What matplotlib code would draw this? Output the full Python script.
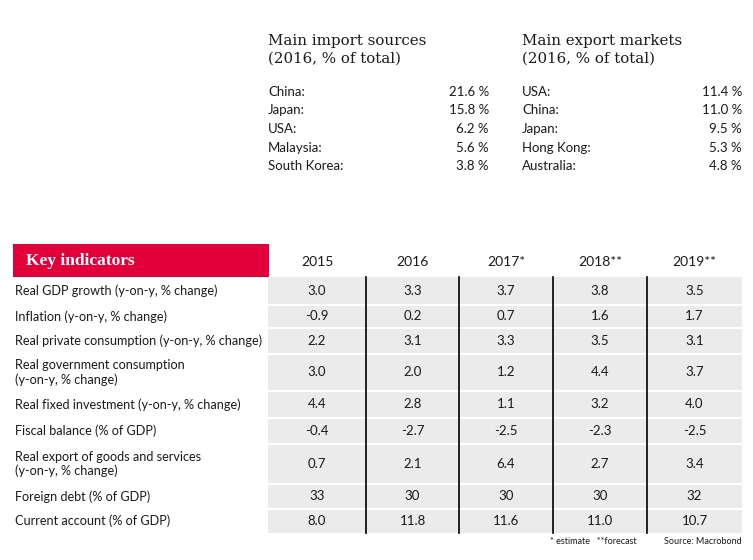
import matplotlib
matplotlib.use("Agg")
from matplotlib import pyplot as plt
from matplotlib.patches import Rectangle

# data
import_countries = ["China:", "Japan:", "USA:", "Malaysia:", "South Korea:"]
import_shares = [21.6, 15.8, 6.2, 5.6, 3.8]
export_countries = ["USA:", "China:", "Japan:", "Hong Kong:", "Australia:"]
export_shares = [11.4, 11.0, 9.5, 5.3, 4.8]

years = ["2015", "2016", "2017*", "2018**", "2019**"]
indicators = [
    "Real GDP growth (y-on-y, % change)",
    "Inflation (y-on-y, % change)",
    "Real private consumption (y-on-y, % change)",
    "Real government consumption\n(y-on-y, % change)",
    "Real fixed investment (y-on-y, % change)",
    "Fiscal balance (% of GDP)",
    "Real export of goods and services\n(y-on-y, % change)",
    "Foreign debt (% of GDP)",
    "Current account (% of GDP)",
]
values = [
    ["3.0", "3.3", "3.7", "3.8", "3.5"],
    ["-0.9", "0.2", "0.7", "1.6", "1.7"],
    ["2.2", "3.1", "3.3", "3.5", "3.1"],
    ["3.0", "2.0", "1.2", "4.4", "3.7"],
    ["4.4", "2.8", "1.1", "3.2", "4.0"],
    ["-0.4", "-2.7", "-2.5", "-2.3", "-2.5"],
    ["0.7", "2.1", "6.4", "2.7", "3.4"],
    ["33", "30", "30", "30", "32"],
    ["8.0", "11.8", "11.6", "11.0", "10.7"],
]

RED = "#e3003a"
GREY = "#ebebeb"
INK = "#1a1a1a"
SANS = "Lato"
SERIF = "DejaVu Serif"

fig = plt.figure(figsize=(7.53, 5.60), dpi=100)
ax = fig.add_axes([0, 0, 1, 1])
ax.set_xlim(0, 753)
ax.set_ylim(560, 0)
ax.axis("off")

# top lists
def trade_block(x0, x1, title, names, shares):
    ax.text(x0, 45, title, family=SERIF, fontsize=10.8, va="baseline", color=INK)
    ax.text(x0, 63, "(2016, % of total)", family=SERIF, fontsize=10.8, va="baseline", color=INK)
    for i, (n, s) in enumerate(zip(names, shares)):
        y = 92 + i * 18.5
        ax.text(x0, y, n, family=SANS, fontsize=9.5, va="center", color=INK)
        ax.text(x1, y, f"{s:.1f} %", family=SANS, fontsize=9.5, va="center", ha="right", color=INK)

trade_block(268, 489, "Main import sources", import_countries, import_shares)
trade_block(522, 742, "Main export markets", export_countries, export_shares)

# table
row_edges = [277, 305, 328, 354, 391, 418, 444, 484, 509, 533]
col_edges = [268, 366, 459, 553, 647, 742]

ax.add_patch(Rectangle((13, 244), 256, 33, color=RED, lw=0))
ax.text(26, 261, "Key indicators", family="Liberation Serif", fontsize=12.5, fontweight="bold",
        color="white", va="center")

for j, yr in enumerate(years):
    xc = (col_edges[j] + col_edges[j + 1]) / 2
    ax.text(xc, 262, yr, family=SANS, fontsize=10, ha="center", va="center", color=INK)

ax.add_patch(Rectangle((col_edges[0], row_edges[0]), col_edges[-1] - col_edges[0],
                       row_edges[-1] - row_edges[0], color=GREY, lw=0))
for y in row_edges[1:-1]:
    ax.plot([col_edges[0], col_edges[-1]], [y, y], color="white", lw=1.5)
for x in col_edges[1:-1]:
    ax.plot([x, x], [row_edges[0], row_edges[-1]], color="black", lw=1.2)

for i, label in enumerate(indicators):
    yc = (row_edges[i] + row_edges[i + 1]) / 2
    ax.text(15, yc, label, family=SANS, fontsize=9.1, va="center", color=INK, linespacing=1.15)
    for j, v in enumerate(values[i]):
        xc = (col_edges[j] + col_edges[j + 1]) / 2
        ax.text(xc, yc, v, family=SANS, fontsize=9.5, ha="center", va="center", color=INK)

ax.text(550, 542, "* estimate   **forecast", family=SANS, fontsize=6.5, va="center", color=INK)
ax.text(742, 542, "Source: Macrobond", family=SANS, fontsize=6.5, va="center", ha="right", color=INK)

fig.savefig("out.png", dpi=100)
